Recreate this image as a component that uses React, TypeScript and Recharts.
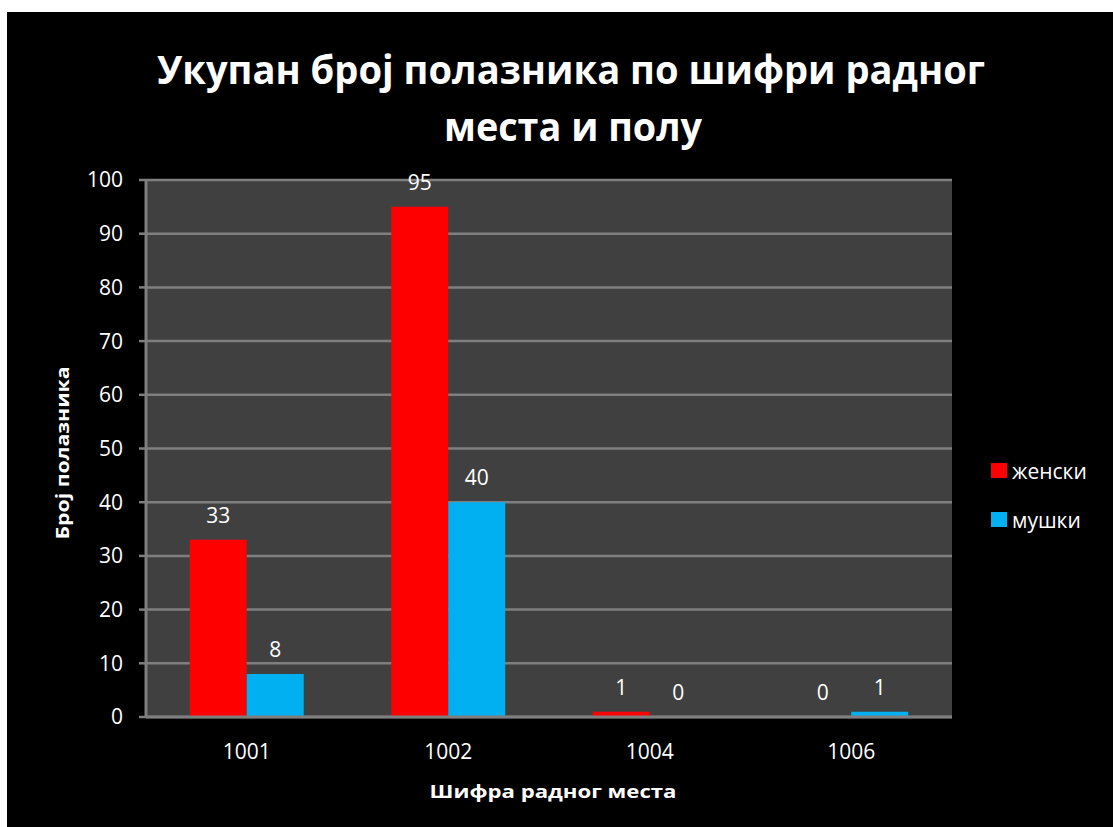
import React from "react";
import {
  BarChart,
  Bar,
  XAxis,
  YAxis,
  CartesianGrid,
  LabelList,
} from "recharts";

const categories = ["1001", "1002", "1004", "1006"];
const zenski = [33, 95, 1, 0];
const muski = [8, 40, 0, 1];
const yTicks = [0, 10, 20, 30, 40, 50, 60, 70, 80, 90, 100];

const seriesNames = ["женски", "мушки"];
const seriesColors = ["#ff0000", "#00b0f0"];
const titleLines = ["Укупан број полазника по шифри радног", "места и полу"];
const xTitle = "Шифра радног места";
const yTitle = "Број полазника";

const data = categories.map((c, i) => ({ cat: c, z: zenski[i], m: muski[i] }));

const FONT = "'Open Sans', 'Noto Sans', sans-serif";
const GRID = "#7f7f7f";

const ValueLabel = (props: any) => {
  const { x, y, width, value } = props;
  if (x == null || y == null) return null;
  return (
    <text
      x={Number(x) + Number(width) / 2}
      y={Number(y) - 17}
      textAnchor="middle"
      fill="#ffffff"
      fontSize={21}
      fontFamily={FONT}
    >
      {String(value)}
    </text>
  );
};

export default function App() {
  return (
    <div
      style={{
        position: "absolute",
        left: 7,
        top: 12,
        width: 1106,
        height: 815,
        background: "#000000",
        overflow: "hidden",
      }}
    >
      <BarChart
        width={1106}
        height={815}
        data={data}
        margin={{ top: 168, right: 161, bottom: 70, left: 79 }}
        barCategoryGap="21.7%"
        barGap={0}
      >
        <CartesianGrid
          vertical={false}
          fill="#404040"
          stroke={GRID}
          strokeWidth={2.5}
        />
        <XAxis
          dataKey="cat"
          tickLine={false}
          axisLine={{ stroke: GRID, strokeWidth: 3 }}
          tick={{ fill: "#ffffff", fontSize: 21, fontFamily: FONT }}
          tickMargin={21}
          height={40}
        />
        <YAxis
          domain={[0, 100]}
          ticks={yTicks}
          interval={0}
          width={60}
          tickSize={7}
          tickMargin={16}
          tickLine={{ stroke: GRID, strokeWidth: 2.5 }}
          axisLine={{ stroke: GRID, strokeWidth: 3 }}
          tick={{ fill: "#ffffff", fontSize: 21, fontFamily: FONT }}
        />
        <Bar
          dataKey="z"
          name={seriesNames[0]}
          fill={seriesColors[0]}
          minPointSize={0.01}
          isAnimationActive={false}
        >
          <LabelList dataKey="z" content={<ValueLabel />} />
        </Bar>
        <Bar
          dataKey="m"
          name={seriesNames[1]}
          fill={seriesColors[1]}
          minPointSize={0.01}
          isAnimationActive={false}
        >
          <LabelList dataKey="m" content={<ValueLabel />} />
        </Bar>
      </BarChart>
      <div
        style={{
          position: "absolute",
          left: 984,
          top: 434,
          fontFamily: FONT,
        }}
      >
        {seriesNames.map((n, i) => (
          <div
            key={n}
            style={{
              display: "flex",
              alignItems: "center",
              height: 49,
              color: "#ffffff",
              fontSize: 21,
            }}
          >
            <span
              style={{
                display: "inline-block",
                width: 16,
                height: 15,
                background: seriesColors[i],
                marginRight: 5,
              }}
            />
            <span>{n}</span>
          </div>
        ))}
      </div>
      <svg
        width={1106}
        height={815}
        style={{ position: "absolute", left: 0, top: 0, pointerEvents: "none" }}
      >
        <text
          x={564}
          y={72}
          textAnchor="middle"
          fill="#ffffff"
          fontFamily={FONT}
          fontWeight="bold"
          fontSize={40}
          textLength={828}
          lengthAdjust="spacingAndGlyphs"
        >
          {titleLines[0]}
        </text>
        <text
          x={566}
          y={129}
          textAnchor="middle"
          fill="#ffffff"
          fontFamily={FONT}
          fontWeight="bold"
          fontSize={40}
          textLength={258}
          lengthAdjust="spacingAndGlyphs"
        >
          {titleLines[1]}
        </text>
        <text
          x={546}
          y={786}
          textAnchor="middle"
          fill="#ffffff"
          fontFamily={FONT}
          fontWeight="bold"
          fontSize={18}
          textLength={247}
          lengthAdjust="spacingAndGlyphs"
        >
          {xTitle}
        </text>
        <text
          x={0}
          y={0}
          transform="translate(62,441) rotate(-90)"
          textAnchor="middle"
          fill="#ffffff"
          fontFamily={FONT}
          fontWeight="bold"
          fontSize={18}
          textLength={173}
          lengthAdjust="spacingAndGlyphs"
        >
          {yTitle}
        </text>
      </svg>
    </div>
  );
}
